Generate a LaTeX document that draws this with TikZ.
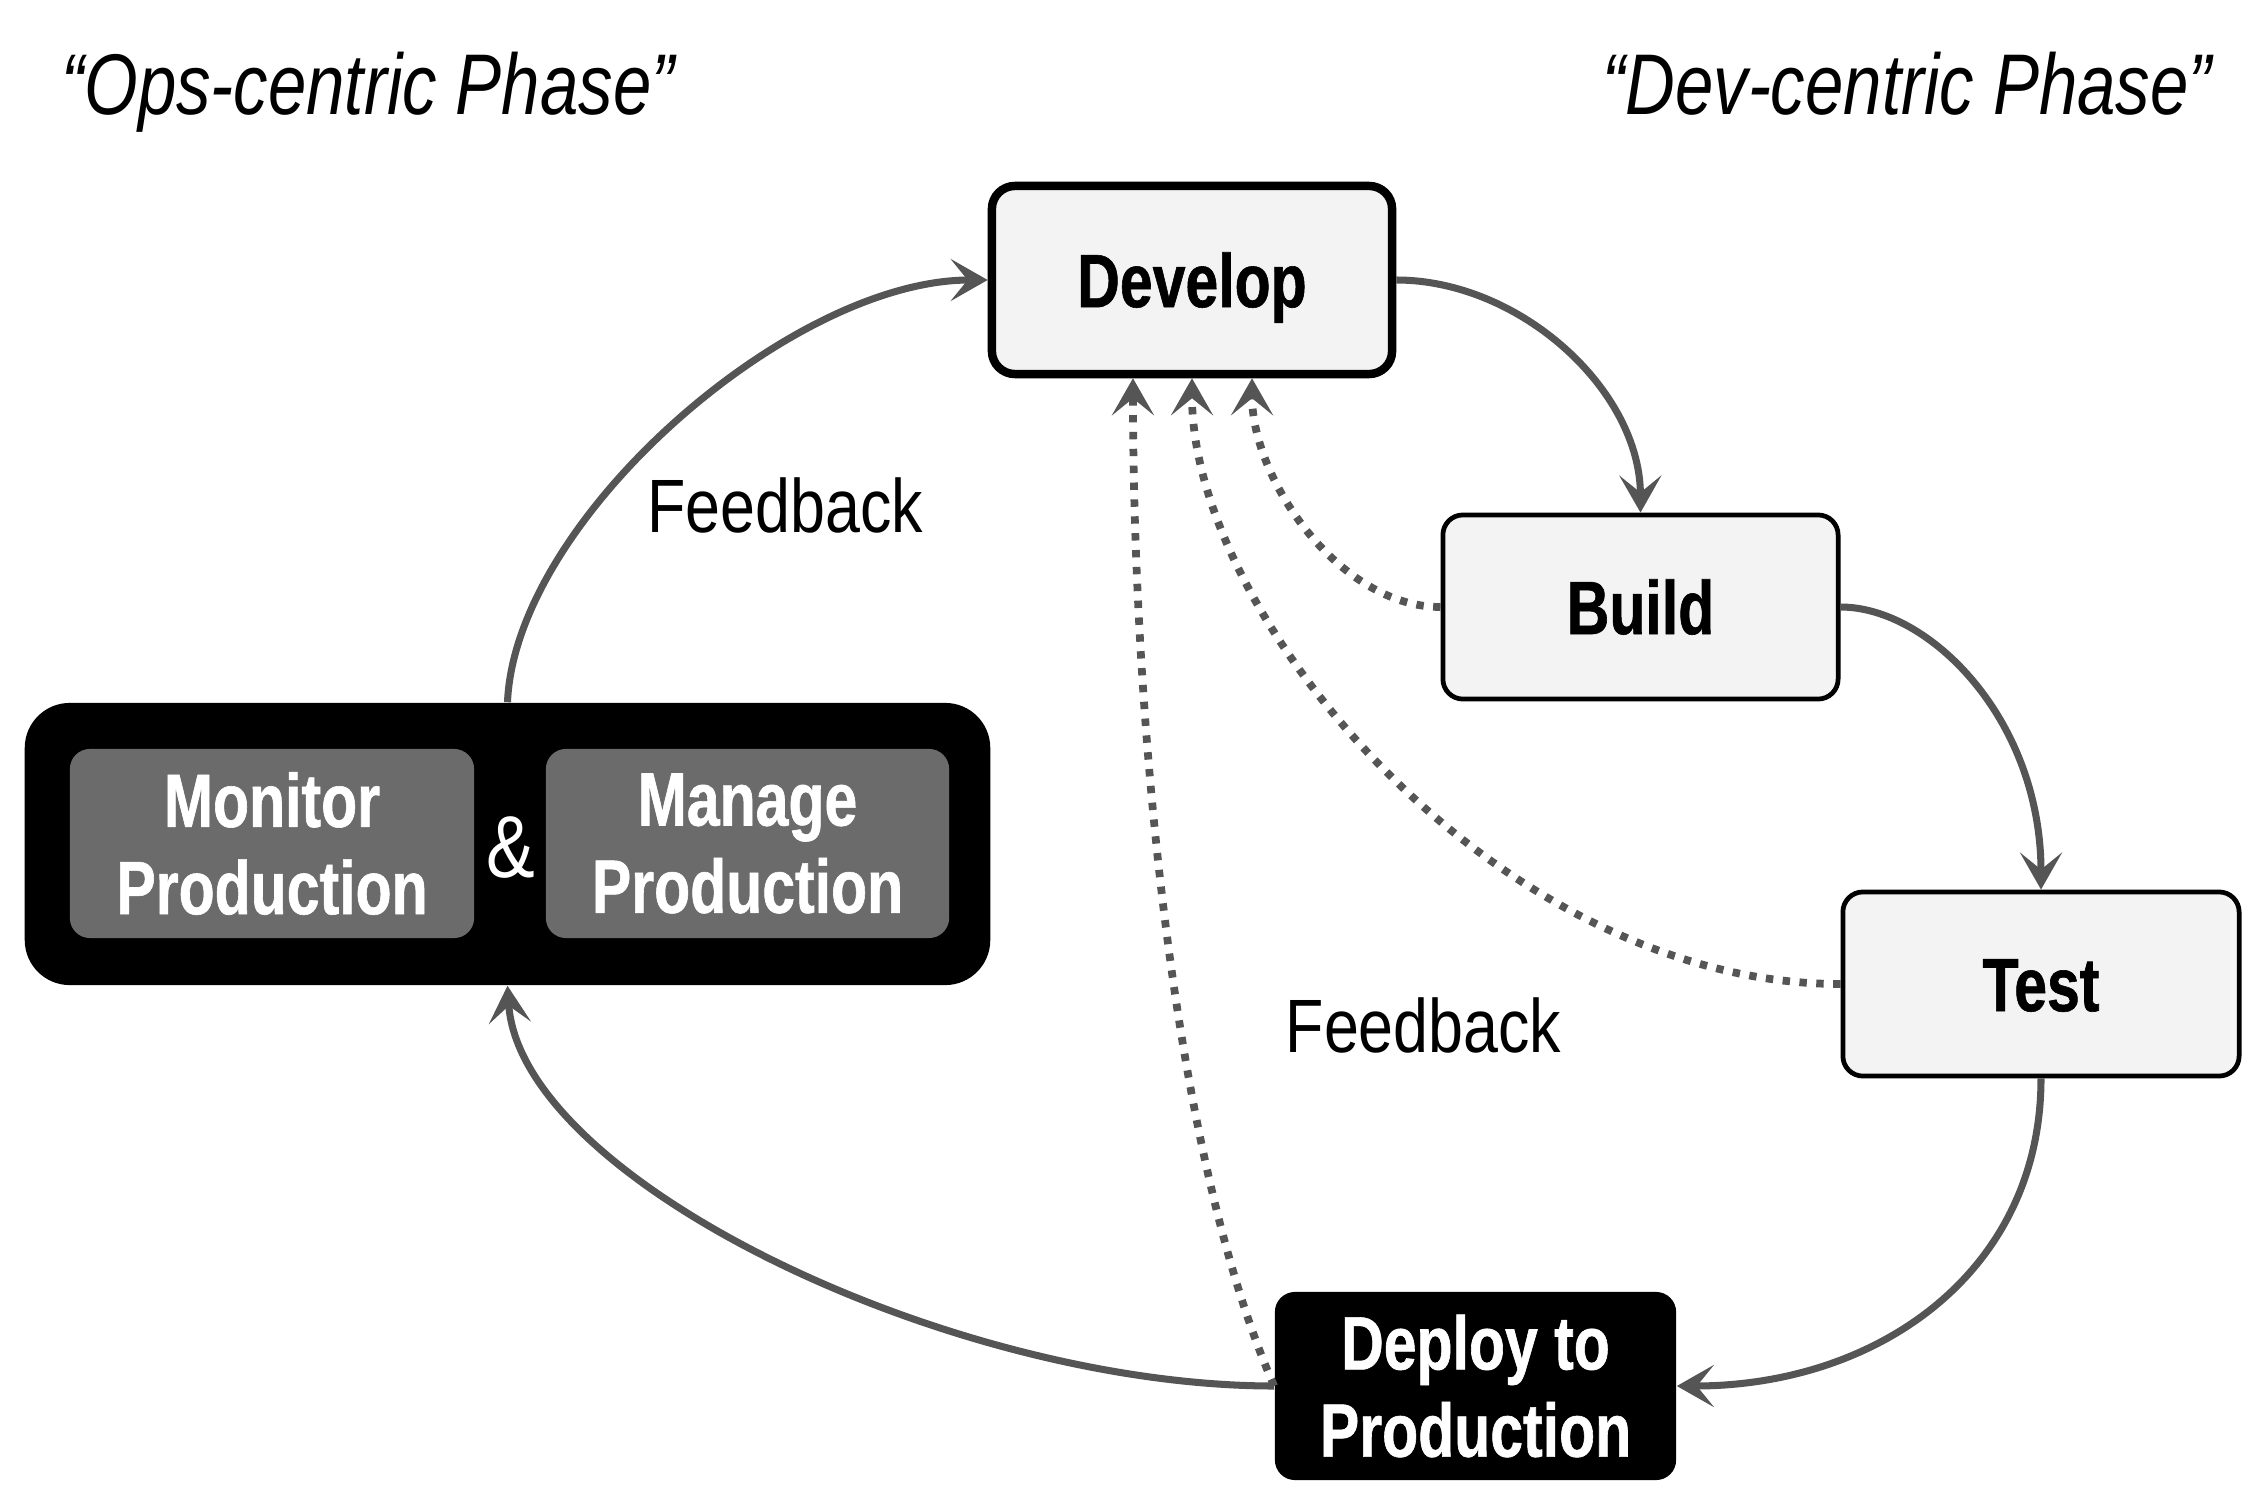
\documentclass[tikz,border=0pt]{standalone}
\usepackage{fontspec}
\setmainfont{Liberation Sans}
\newfontfamily\bfam[FakeStretch=0.78, BoldFeatures={FakeBold=0.8}]{Liberation Sans}
\newfontfamily\rfam[FakeStretch=0.83]{Liberation Sans}
\newfontfamily\ifam[FakeStretch=0.8]{Liberation Sans}
\usetikzlibrary{arrows.meta}
\definecolor{conn}{HTML}{555555}
\definecolor{lightfill}{HTML}{F3F3F3}
\definecolor{innerfill}{HTML}{6B6B6B}
\tikzset{
  tip/.style={-{Stealth[length=0.37cm, width=0.42cm, inset=0.17cm]}},
  flow/.style={draw=conn, line width=2pt, tip},
  fback/.style={draw=conn, line width=2.2pt, dash pattern=on 2.1pt off 2.7pt, tip},
  boldtext/.style={font=\bfam\bfseries\fontsize{21.5}{24.8}\selectfont},
  stagebox/.style={boldtext, rounded corners=0.2cm, fill=lightfill, draw=black,
    line width=1.35pt, minimum width=3.95cm, minimum height=1.84cm, inner sep=0pt,
    text height=15.4pt, text depth=0pt},
  devbox/.style={stagebox, line width=2.4pt, minimum width=4.0cm, minimum height=1.88cm, rounded corners=0.23cm},
  deploybox/.style={boldtext, text=white, fill=black, rounded corners=0.2cm,
    minimum width=4.01cm, minimum height=1.88cm, inner sep=0pt, align=center},
  opsbox/.style={fill=black, rounded corners=0.45cm, minimum width=9.65cm, minimum height=2.82cm, inner sep=0pt},
  innerbox/.style={boldtext, text=white, fill=innerfill, rounded corners=0.2cm,
    minimum width=4.04cm, minimum height=1.89cm, inner sep=0pt, align=center},
  phase/.style={font=\ifam\itshape\fontsize{24.5}{28}\selectfont, anchor=base, inner sep=0pt},
  fblabel/.style={font=\rfam\fontsize{21.5}{26}\selectfont, anchor=base, inner sep=0pt},
}
\begin{document}
\begin{tikzpicture}[x=0.01cm, y=-0.01cm]
\useasboundingbox[fill=white] (0,0) rectangle (2266,1500);

% titles
\node[phase] (opsphase) at (368,115) {“Ops-centric Phase”};
\node[phase] (devphase) at (1907,115) {“Dev-centric Phase”};

% stages
\node[devbox] (dev) at (1192,280) {Develop};
\node[stagebox] (build) at (1640.5,607) {Build};
\node[stagebox, minimum width=3.96cm] (test) at (2041,984) {Test};
\node[deploybox] (deploy) at (1475.5,1386) {Deploy to\\Production};

\node[opsbox] (ops) at (507.5,844) {};
\node[innerbox] (mon) at (272,843.5) {Monitor\\Production};
\node[innerbox, minimum width=4.03cm] (man) at (747.5,843.5) {Manage\\Production};
\node[text=white, font=\rfam\fontsize{25}{28}\selectfont, inner sep=0pt] (amp) at (511,848) {\&};

% labels
\node[fblabel] (fb1) at (785,532) {Feedback};
\node[fblabel] (fb2) at (1423.5,1052) {Feedback};

% main cycle
\draw[flow] (dev.east) .. controls (1520,280) and (1640,390) .. (build.north);
\draw[flow] (build.east) .. controls (1930,607) and (2041,720) .. (test.north);
\draw[flow] (test.south) .. controls (2041,1270) and (1880,1386) .. (deploy.east);
\draw[flow] (deploy.west) .. controls (950,1386) and (520,1180) .. (ops.south);
\draw[flow] (ops.north) .. controls (515,520) and (790,280) .. (dev.west);

% feedback loops
\draw[fback] (build.west) .. controls (1340,607) and (1252,480) .. ([xshift=0.6cm]dev.south);
\draw[fback] (test.west) .. controls (1500,984) and (1192,620) .. (dev.south);
\draw[fback] (deploy.west) .. controls (1170,1150) and (1133,700) .. ([xshift=-0.59cm]dev.south);
\end{tikzpicture}
\end{document}
